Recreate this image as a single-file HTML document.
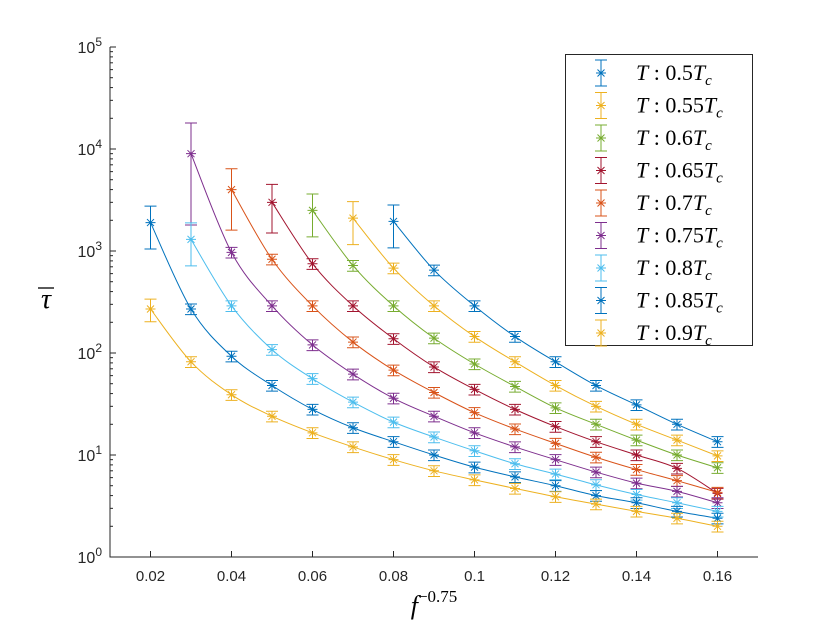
<!DOCTYPE html>
<html><head><meta charset="utf-8"><style>
body{margin:0;background:#fff}
svg text{font-family:"Liberation Sans",sans-serif}
</style></head><body>
<svg id="chart" width="840" height="630" xmlns="http://www.w3.org/2000/svg">
<rect width="840" height="630" fill="#fff"/>
<g id="grid"></g>
<g id="fits"></g>
<g id="marks"></g>
<g id="axes"></g>
<g id="legend"></g>
</svg>
<script>
const labels=["0.5","0.55","0.6","0.65","0.7","0.75","0.8","0.85","0.9"];
const colors=["#0072BD","#EDB120","#77AC30","#A2142F","#D95319","#7E2F8E","#4DBEEE","#0072BD","#EDB120"];
const startX=[0.08,0.07,0.06,0.05,0.04,0.03,0.03,0.02,0.02];
const s0=[1950,650,290,145,82,48,31,20,13.5];
const s1=[2100,680,290,145,82,48,30,20,14,9.8];
const s2=[2500,720,290,140,78,47,29,20,14,10,7.5];
const s3=[3000,750,290,138,73,44,28,19,13.5,10,7.4,4.2];
const s4=[4000,830,290,128,68,41,26,18,13,9.5,7.2,5.6,4.3];
const s5=[9000,970,290,120,62,36,24,16.5,12,9,6.8,5.3,4.4,3.4];
const s6=[1300,290,108,56,33,21,15,11,8.2,6.5,5.1,4.1,3.4,2.8];
const s7=[1900,270,93,48,28,18.5,13.5,10,7.6,6.1,5,4,3.4,2.8,2.4];
const s8=[270,82,39,24,16.5,12,9,7,5.7,4.7,3.9,3.3,2.8,2.4,2.0];
const series=[s0,s1,s2,s3,s4,s5,s6,s7,s8];
const errFirst=[0.45,0.45,0.45,0.5,0.6,1.0,0.45,0.45,0.25];
const errRest=0.12;
const xTicks=[0.02,0.04,0.06,0.08,0.1,0.12,0.14,0.16];
const xTickLabels=["0.02","0.04","0.06","0.08","0.1","0.12","0.14","0.16"];
const yExps=[0,1,2,3,4,5];

const L=110,R=758,T=47,B=557;
const X=v=>L+(v-0.01)/(0.16)*(R-L);
const Y=v=>B-(Math.log10(v)-0)/5*(B-T);
const NS="http://www.w3.org/2000/svg";
const SERIF='font-family:"Liberation Serif",serif';
function mk(tag,attrs,parent){const e=document.createElementNS(NS,tag);for(const k in attrs)e.setAttribute(k,attrs[k]);parent.appendChild(e);return e;}
const axes=document.getElementById('axes'),marks=document.getElementById('marks'),fits=document.getElementById('fits'),leg=document.getElementById('legend');

let a=mk('path',{d:`M${L},${T}V${B}H${R}`,fill:'none',stroke:'#262626','stroke-width':1},axes);


xTicks.forEach((t,i)=>{
 const x=X(t);
 const tk=mk('line',{x1:x,x2:x,y1:B,y2:B-6,stroke:'#262626'},axes);
 
 
 const tx=mk('text',{x:x,y:B+24,'text-anchor':'middle','font-size':15,fill:'#262626'},axes);
 tx.textContent=xTickLabels[i];
 
 
});
yExps.forEach(e=>{
 const y=Y(Math.pow(10,e));
 const tk=mk('line',{x1:L,x2:L+6,y1:y,y2:y,stroke:'#262626'},axes);
 
 
 if(e<5){for(let m=2;m<10;m++){const ym=Y(m*Math.pow(10,e));const mt=mk('line',{x1:L,x2:L+3,y1:ym,y2:ym,stroke:'#262626'},axes);
 
 }}
 const tx=mk('text',{x:L-8,y:y+6,'text-anchor':'end','font-size':16,fill:'#262626'},axes);
 tx.innerHTML='10<tspan dy="-7" font-size="12">'+e+'</tspan>';
 
 
});
let xt=mk('text',{x:434,y:614,'text-anchor':'middle','font-size':26,'font-style':'italic',style:SERIF,fill:'#000'},axes);
xt.innerHTML='f<tspan dy="-12" font-size="17" font-style="normal">−0.75</tspan>';


let yt=mk('text',{x:46,y:308,'text-anchor':'middle','font-size':28,'font-style':'italic',style:SERIF,fill:'#000'},axes);
yt.textContent='τ';


let yb=mk('line',{x1:38,x2:54,y1:288,y2:288,stroke:'#000','stroke-width':1.3},axes);



function star(g,x,y,c){const r=5;
 mk('path',{d:`M${x-r},${y}H${x+r}M${x},${y-r}V${y+r}M${x-r*.7},${y-r*.7}L${x+r*.7},${y+r*.7}M${x-r*.7},${y+r*.7}L${x+r*.7},${y-r*.7}`,stroke:c,'stroke-width':1,fill:'none'},g);}
function ebar(g,x,lo,hi,c){mk('path',{d:`M${x},${Y(lo)}V${Y(hi)}M${x-6},${Y(lo)}H${x+6}M${x-6},${Y(hi)}H${x+6}`,stroke:c,'stroke-width':1,fill:'none'},g);}

series.forEach((vals,si)=>{
 const c=colors[si];
 const pts=vals.map((v,i)=>[X(startX[si]+i*0.01),Y(v)]);
 let d=`M${pts[0][0]},${pts[0][1]}`;
 for(let i=0;i<pts.length-1;i++){const p0=pts[Math.max(0,i-1)],p1=pts[i],p2=pts[i+1],p3=pts[Math.min(pts.length-1,i+2)];
  d+=`C${p1[0]+(p2[0]-p0[0])/6},${p1[1]+(p2[1]-p0[1])/6} ${p2[0]-(p3[0]-p1[0])/6},${p2[1]-(p3[1]-p1[1])/6} ${p2[0]},${p2[1]}`;}
 const f=mk('path',{d:d,stroke:c,fill:'none','stroke-width':1},fits);
 
 
 const g=mk('g',{},marks);
 
 
 vals.forEach((v,i)=>{
  const e=i===0?errFirst[si]:errRest;
  const x=X(startX[si]+i*0.01);
  ebar(g,x,v*(1-Math.min(e,0.8)),v*(1+e),c);
  star(g,x,Y(v),c);
 });
});

const lb=mk('rect',{x:565.5,y:54.5,width:187,height:291,fill:'#fff',stroke:'#262626','stroke-width':1},leg);


labels.forEach((l,i)=>{
 const y=73+i*32.5;
 const g=mk('g',{},leg);
 
 
 mk('path',{d:`M601,${y-13}V${y+13}M595,${y-13}H607M595,${y+13}H607`,stroke:colors[i],fill:'none'},g);
 star(g,601,y,colors[i]);
 const t=mk('text',{x:636,y:y+7,'font-size':22,style:SERIF,fill:'#000'},g);
 t.innerHTML='<tspan font-style="italic">T</tspan> : '+l+'<tspan font-style="italic">T</tspan><tspan dy="5" font-size="15" font-style="italic">c</tspan>';
});
</script>
</body></html>
